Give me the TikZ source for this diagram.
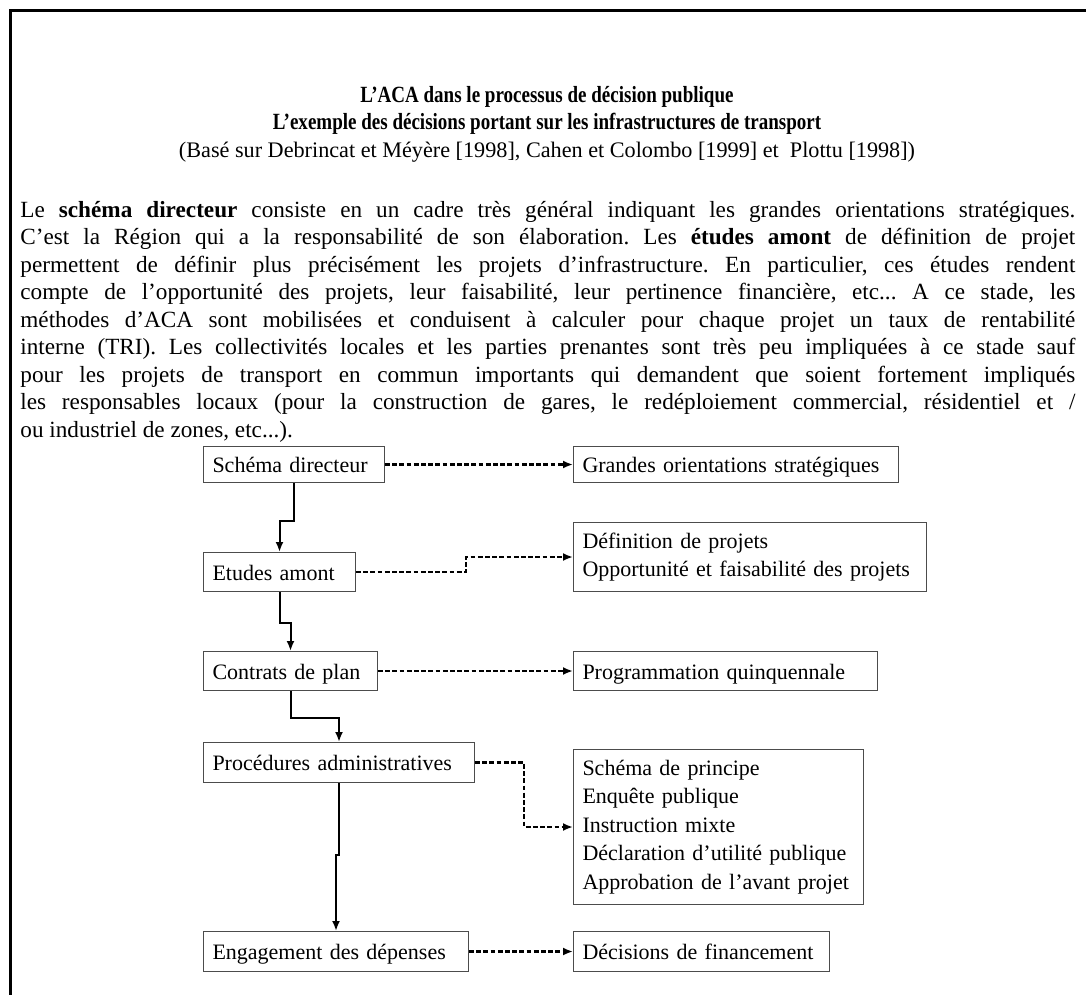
\documentclass[tikz,border=0pt]{standalone}
\usepackage{fontspec}
\setmainfont{Liberation Serif}
\newfontfamily\titlefont[FakeStretch=0.82]{Liberation Serif}
\usetikzlibrary{arrows.meta}

\begin{document}
\begin{tikzpicture}[x=0.5pt, y=-0.5pt,
    font=\fontsize{11}{14.25}\selectfont,
    box/.style={draw=black!70, line width=0.5pt, anchor=north west, inner xsep=4.5pt, inner ysep=0pt,
                align=left, execute at begin node={\hyphenpenalty=10000\relax}},
    onebox/.style={box, text height=9.5pt, text depth=1.5pt},
    flow/.style={line width=1pt, -{Latex[length=5pt,width=4pt]}},
    link/.style={line width=1.1pt, dash pattern=on 2.4pt off 1.2pt, -{Latex[length=5pt,width=4pt]}}]
    \useasboundingbox (0,0) rectangle (1086,995);
    % Frame
    \draw[line width=1.5pt] (10.5,1000) -- (10.5,11) -- (1090,11);

    % Title
    \node[anchor=base, align=center, font=\fontsize{11.1}{13.75}\selectfont] (title) at (547,157)
        {{\titlefont\bfseries\fontsize{11.6}{13.75}\selectfont L’ACA dans le processus de décision publique}\\
         {\titlefont\bfseries\fontsize{11.6}{13.75}\selectfont L’exemple des décisions portant sur les infrastructures de transport}\\
         (Basé sur Debrincat et Méyère [1998], Cahen et Colombo [1999] et~ Plottu [1998])};

    % Text
    \node[anchor=base west, inner sep=0pt, text width=527.5pt, align=justify,
          font=\fontsize{11.6}{13.75}\selectfont] (text) at (20,217)
        {\frenchspacing\tolerance=9999 \hyphenpenalty=10000
         Le \textbf{schéma directeur} consiste en un cadre très général indiquant les grandes orientations stratégiques.\linebreak
         C’est la Région qui a la responsabilité de son élaboration. Les \textbf{études amont} de définition de projet\linebreak
         permettent de définir plus précisément les projets d’infrastructure. En particulier, ces études rendent\linebreak
         compte de l’opportunité des projets, leur faisabilité, leur pertinence financière, etc... A ce stade, les\linebreak
         méthodes d’ACA sont mobilisées et conduisent à calculer pour chaque projet un taux de rentabilité\linebreak
         interne (TRI). Les collectivités locales et les parties prenantes sont très peu impliquées à ce stade sauf\linebreak
         pour les projets de transport en commun importants qui demandent que soient fortement impliqués\linebreak
         les responsables locaux (pour la construction de gares, le redéploiement commercial, résidentiel et /\linebreak
         ou industriel de zones, etc...).};

    % Steps of the decision
    \node[onebox, text width=81.5pt, minimum height=18pt] (sd) at (203,446) {Schéma directeur};
    \node[onebox, text width=67pt, minimum height=19.5pt] (ea) at (203,552) {Etudes amont};
    \node[onebox, text width=78pt, minimum height=19.5pt] (cp) at (203,651) {Contrats de plan};
    \node[onebox, text width=126.5pt, minimum height=20pt] (pa) at (203,742) {Procédures administratives};
    \node[onebox, text width=123.5pt, minimum height=20pt] (eng) at (203,931) {Engagement des dépenses};

    % Outputs
    \node[onebox, text width=153.5pt, minimum height=18pt] (go) at (573,446) {Grandes orientations stratégiques};
    \node[box, text width=167.5pt, minimum height=34.5pt] (def) at (573,522)
        {Définition de projets\\Opportunité et faisabilité des projets};
    \node[onebox, text width=143pt, minimum height=19.5pt] (prog) at (573,651) {Programmation quinquennale};
    \node[box, text width=136pt, minimum height=77.5pt] (spp) at (573,749)
        {Schéma de principe\\Enquête publique\\Instruction mixte\\Déclaration d’utilité publique\\Approbation de l’avant projet};
    \node[onebox, text width=119pt, minimum height=20pt] (dec) at (573,931) {Décisions de financement};

    % Solid arrows between steps
    \draw[flow] (sd.south) -- ++(0,38) -| (ea.north);
    \draw[flow] (ea.south) -- ++(0,31) -| (cp.north);
    \draw[flow] (cp.south) -- ++(0,27) -| (pa.north);
    \draw[flow] (pa.south) -- ++(0,72) -| (eng.north);

    % Dashed arrows to outputs
    \draw[link] (sd.east) -- (go.west);
    \draw[link] (ea.east) -- ++(110,0) |- (def.west);
    \draw[link] (cp.east) -- (prog.west);
    \draw[link] (pa.east) -- ++(49,0) |- (spp.west);
    \draw[link] (eng.east) -- (dec.west);
\end{tikzpicture}
\end{document}
